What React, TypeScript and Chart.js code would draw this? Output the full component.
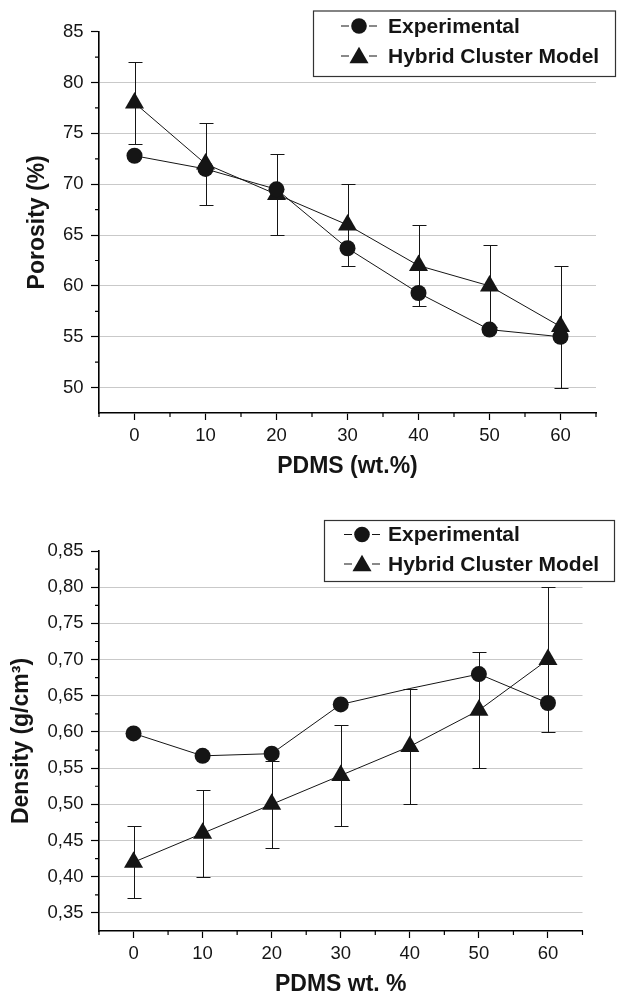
import React, { useEffect, useRef } from 'react';
import { Chart, registerables } from 'chart.js';

Chart.register(...registerables);

// ---------- data ----------
const pdmsContent = [0, 10, 20, 30, 40, 50, 60];
const seriesNames = ['Experimental', 'Hybrid Cluster Model'];
const pdmsTicks = [0, 10, 20, 30, 40, 50, 60];
const pdmsMinorTicks = [-5, 5, 15, 25, 35, 45, 55, 65];

const porosityExperimental = [72.8, 71.5, 69.5, 63.7, 59.3, 55.7, 55.0];
const porosityModel = [78, 72, 69, 66, 62, 60, 56];
const porosityModelError = [4, 4, 4, 4, 4, 4, 6];
const porosityTicks = [50, 55, 60, 65, 70, 75, 80, 85];
const porosityMinorTicks = [52.5, 57.5, 62.5, 67.5, 72.5, 77.5, 82.5];

const densityExperimental = [0.598, 0.567, 0.57, 0.638, 0.66, 0.68, 0.64];
const densityExperimentalMarker = [1, 1, 1, 1, 0, 1, 1];
const densityModel = [0.42, 0.46, 0.5, 0.54, 0.58, 0.63, 0.7];
const densityModelError = [0.05, 0.06, 0.06, 0.07, 0.08, 0.08, 0.1];
const densityTicks = [0.35, 0.4, 0.45, 0.5, 0.55, 0.6, 0.65, 0.7, 0.75, 0.8, 0.85];
const densityMinorTicks = [0.375, 0.425, 0.475, 0.525, 0.575, 0.625, 0.675, 0.725, 0.775, 0.825];

// ---------- style ----------
const FONT = '"Liberation Sans", Arial, Helvetica, sans-serif';
const INK = '#151515';
const GRID = '#c9c9c9';
const PAGE_W = 617;
const TICK_SIZE = 18.5;

// ---------- plugins ----------
const errorBarPlugin = {
  id: 'errorBars',
  beforeDatasetsDraw(chart: any, _args: any, opts: any) {
    const { ctx } = chart;
    const x = chart.scales.x;
    const y = chart.scales.y;
    const ds = chart.data.datasets[opts.datasetIndex];
    ctx.save();
    ctx.strokeStyle = opts.color;
    ctx.lineWidth = opts.width;
    ds.data.forEach((p: any, i: number) => {
      const e = opts.errors[i];
      const px = Math.round(x.getPixelForValue(p.x)) + 0.5;
      const top = Math.round(y.getPixelForValue(p.y + e)) + 0.5;
      const bot = Math.round(y.getPixelForValue(p.y - e)) + 0.5;
      ctx.beginPath();
      ctx.moveTo(px, top);
      ctx.lineTo(px, bot);
      ctx.moveTo(px - opts.cap, top);
      ctx.lineTo(px + opts.cap, top);
      ctx.moveTo(px - opts.cap, bot);
      ctx.lineTo(px + opts.cap, bot);
      ctx.stroke();
    });
    ctx.restore();
  },
};

const minorTickPlugin = {
  id: 'minorTicks',
  afterDraw(chart: any, _args: any, opts: any) {
    const { ctx } = chart;
    const x = chart.scales.x;
    const y = chart.scales.y;
    ctx.save();
    ctx.strokeStyle = '#000';
    ctx.lineWidth = 1.2;
    ctx.beginPath();
    opts.x.forEach((v: number) => {
      const px = x.getPixelForValue(v);
      ctx.moveTo(px, x.top);
      ctx.lineTo(px, x.top + opts.len);
    });
    opts.y.forEach((v: number) => {
      const py = y.getPixelForValue(v);
      ctx.moveTo(y.right, py);
      ctx.lineTo(y.right - opts.len, py);
    });
    ctx.stroke();
    ctx.restore();
  },
};

const boxLegendPlugin = {
  id: 'boxLegend',
  afterDraw(chart: any, _args: any, opts: any) {
    const { ctx } = chart;
    const b = opts.box;
    ctx.save();
    ctx.fillStyle = '#fff';
    ctx.fillRect(b.left, b.top, b.right - b.left, b.bottom - b.top);
    ctx.strokeStyle = '#333';
    ctx.lineWidth = 1.2;
    ctx.strokeRect(b.left, b.top, b.right - b.left, b.bottom - b.top);
    chart.data.datasets.forEach((ds: any, i: number) => {
      const cy = opts.rows[i];
      const sx = opts.symbolX;
      ctx.strokeStyle = INK;
      ctx.lineWidth = 1.2;
      ctx.beginPath();
      ctx.moveTo(sx - 18, cy);
      ctx.lineTo(sx - 10, cy);
      ctx.moveTo(sx + 10, cy);
      ctx.lineTo(sx + 18, cy);
      ctx.stroke();
      ctx.fillStyle = INK;
      ctx.beginPath();
      if (ds.pointStyle === 'triangle') {
        const r = 11;
        ctx.moveTo(sx, cy - r * 0.75 - 1);
        ctx.lineTo(sx + (r * Math.sqrt(3)) / 2, cy + r * 0.75 - 1);
        ctx.lineTo(sx - (r * Math.sqrt(3)) / 2, cy + r * 0.75 - 1);
        ctx.closePath();
      } else {
        ctx.arc(sx, cy, 7.8, 0, Math.PI * 2);
      }
      ctx.fill();
      ctx.font = `bold ${opts.fontSize}px ${FONT}`;
      ctx.textBaseline = 'middle';
      ctx.textAlign = 'left';
      ctx.fillText(ds.label, opts.textX, cy + 1);
    });
    ctx.restore();
  },
};

// ---------- config ----------
function makeConfig(p: any) {
  const toPoints = (vals: number[]) => vals.map((v, i) => ({ x: pdmsContent[i], y: v }));
  const titleHalf = (p.titleSize * 1.2) / 2;
  const xAxisH = p.titleGap + titleHalf;
  return {
    type: 'line',
    data: {
      datasets: [
        {
          label: seriesNames[0],
          data: toPoints(p.exp),
          borderColor: INK,
          borderWidth: 1,
          backgroundColor: INK,
          pointStyle: 'circle',
          pointRadius: p.expMarker ? p.expMarker.map((m: number) => (m ? 8 : 0)) : 8,
          pointBorderWidth: 0,
          pointBackgroundColor: INK,
          fill: false,
          tension: 0,
          clip: false,
        },
        {
          label: seriesNames[1],
          data: toPoints(p.model),
          borderColor: INK,
          borderWidth: 1,
          backgroundColor: INK,
          pointStyle: 'triangle',
          pointRadius: 11,
          pointBorderWidth: 0,
          pointBackgroundColor: INK,
          fill: false,
          tension: 0,
          clip: false,
        },
      ],
    },
    options: {
      animation: false,
      responsive: false,
      maintainAspectRatio: false,
      events: [],
      layout: {
        padding: {
          left: p.scaleLeft,
          top: p.area.top,
          right: PAGE_W - p.area.right,
          bottom: p.height - p.area.bottom - xAxisH,
        },
      },
      plugins: {
        legend: { display: false },
        tooltip: { enabled: false },
        title: { display: false },
        errorBars: { datasetIndex: 1, errors: p.errors, cap: 7, color: INK, width: 1 },
        minorTicks: { x: pdmsMinorTicks, y: p.yMinor, len: 4 },
        boxLegend: {
          box: p.legendBox,
          rows: p.legendRows,
          symbolX: p.legendSymbolX,
          textX: p.legendTextX,
          fontSize: 21,
        },
      },
      scales: {
        x: {
          type: 'linear',
          min: -5,
          max: 65,
          afterBuildTicks: (s: any) => {
            s.ticks = pdmsTicks.map((v) => ({ value: v }));
          },
          afterFit: (s: any) => {
            s.height = xAxisH;
            s.paddingLeft = 0;
            s.paddingRight = 0;
          },
          border: { display: true, color: '#000', width: 1.6 },
          grid: {
            display: true,
            drawOnChartArea: false,
            drawTicks: true,
            tickLength: 7,
            tickColor: '#000',
            tickWidth: 1.2,
          },
          ticks: {
            color: INK,
            padding: 4.5,
            maxRotation: 0,
            autoSkip: false,
            font: { family: FONT, size: TICK_SIZE },
            callback: (v: number) => String(v),
          },
          title: {
            display: true,
            text: p.xTitle,
            color: INK,
            padding: { top: 0, bottom: 0 },
            font: { family: FONT, size: p.titleSize, weight: 'bold' },
          },
        },
        y: {
          type: 'linear',
          min: p.yMin,
          max: p.yMax,
          afterBuildTicks: (s: any) => {
            s.ticks = p.yTicks.map((v: number) => ({ value: v }));
          },
          afterFit: (s: any) => {
            s.width = p.area.left - p.scaleLeft;
            s.paddingTop = 0;
            s.paddingBottom = 0;
          },
          border: { display: true, color: '#000', width: 1.6 },
          grid: {
            display: true,
            drawOnChartArea: true,
            drawTicks: true,
            tickLength: 8,
            tickWidth: 1.2,
            tickColor: '#000',
            lineWidth: 1,
            color: (c: any) =>
              c.tick && Math.abs(c.tick.value - p.yMax) < 1e-9 ? 'rgba(0,0,0,0)' : GRID,
          },
          ticks: {
            color: INK,
            padding: 7.5,
            autoSkip: false,
            font: { family: FONT, size: TICK_SIZE },
            callback: p.yFormat,
          },
          title: {
            display: true,
            text: p.yTitle,
            color: INK,
            padding: { top: 0, bottom: 0 },
            font: { family: FONT, size: p.titleSize, weight: 'bold' },
          },
        },
      },
    },
    plugins: [errorBarPlugin, minorTickPlugin, boxLegendPlugin],
  };
}

const porosityConfig = () =>
  makeConfig({
    height: 490,
    area: { left: 99, right: 596, top: 31.7, bottom: 413 },
    scaleLeft: 24,
    titleSize: 23,
    titleGap: 53.7,
    exp: porosityExperimental,
    model: porosityModel,
    errors: porosityModelError,
    yMin: 47.5,
    yMax: 85,
    yTicks: porosityTicks,
    yMinor: porosityMinorTicks,
    yFormat: (v: number) => String(v),
    yTitle: 'Porosity (%)',
    xTitle: 'PDMS (wt.%)',
    legendBox: { left: 313.5, top: 11, right: 615.5, bottom: 76.5 },
    legendRows: [26, 56],
    legendSymbolX: 359,
    legendTextX: 388,
  });

const densityConfig = () =>
  makeConfig({
    height: 520,
    area: { left: 99, right: 582.5, top: 61, bottom: 441 },
    scaleLeft: 8,
    titleSize: 23,
    titleGap: 54,
    exp: densityExperimental,
    expMarker: densityExperimentalMarker,
    model: densityModel,
    errors: densityModelError,
    yMin: 0.325,
    yMax: 0.85,
    yTicks: densityTicks,
    yMinor: densityMinorTicks,
    yFormat: (v: number) => v.toFixed(2).replace('.', ','),
    yTitle: 'Density (g/cm³)',
    xTitle: 'PDMS wt. %',
    legendBox: { left: 324.5, top: 30.5, right: 614.5, bottom: 91.5 },
    legendRows: [44.5, 74],
    legendSymbolX: 362,
    legendTextX: 388,
  });

function ChartCanvas({ makeCfg, top, height }: { makeCfg: () => any; top: number; height: number }) {
  const ref = useRef<HTMLCanvasElement | null>(null);
  useEffect(() => {
    if (!ref.current) return;
    const chart = new Chart(ref.current, makeCfg());
    return () => chart.destroy();
  }, []);
  return (
    <canvas
      ref={ref}
      width={PAGE_W}
      height={height}
      style={{ position: 'absolute', left: 0, top, width: PAGE_W, height, display: 'block' }}
    />
  );
}

export default function App() {
  return (
    <div
      style={{
        position: 'fixed',
        left: 0,
        top: 0,
        width: PAGE_W,
        height: 1010,
        background: '#fff',
        overflow: 'hidden',
      }}
    >
      <ChartCanvas makeCfg={porosityConfig} top={0} height={490} />
      <ChartCanvas makeCfg={densityConfig} top={490} height={520} />
    </div>
  );
}
